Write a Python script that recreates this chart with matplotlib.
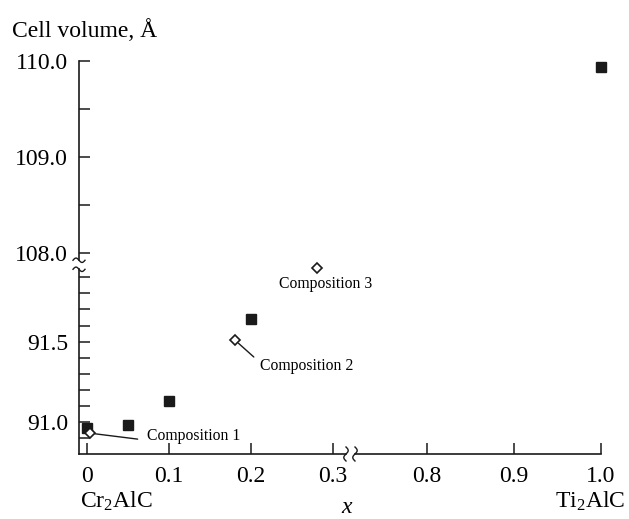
import matplotlib
matplotlib.use("Agg")
import matplotlib.pyplot as plt
import matplotlib.transforms as mtransforms
import numpy as np

plt.rcParams['font.family'] = 'serif'
plt.rcParams['font.serif'] = ['Liberation Serif', 'DejaVu Serif']
plt.rcParams['mathtext.fontset'] = 'custom'
plt.rcParams['mathtext.rm'] = 'Liberation Serif'
plt.rcParams['mathtext.it'] = 'Liberation Serif:italic'

# data
x_filled = [0.0, 0.05, 0.1, 0.2, 1.0]
v_filled = [90.96, 90.98, 91.13, 91.64, 109.94]
x_open = [0.003, 0.18, 0.28]
v_open = [90.93, 91.51, 91.96]
open_labels = ["Composition 1", "Composition 2", "Composition 3"]

xticks = [0, 0.1, 0.2, 0.3, 0.8, 0.9, 1.0]
xticklabels = ["0", "0.1", "0.2", "0.3", "0.8", "0.9", "1.0"]
yticks = [91.0, 91.5, 108.0, 109.0, 110.0]
yticklabels = ["91.0", "91.5", "108.0", "109.0", "110.0"]
yminor = [90.9, 91.1, 91.2, 91.3, 91.4, 91.6, 91.7, 91.8, 91.9, 108.5, 109.5]

# piecewise linear scales for the broken axes
xk = [-1.0, -0.01, 0.3, 0.8, 1.0, 2.0]
xp = [-811.8, 0.0, 254.2, 348.0, 522.0, 1392.0]
yk = [80.0, 90.8, 92.0, 108.0, 110.0, 120.0]
yp = [-1734.5, 0.0, 192.7, 201.0, 393.0, 1353.0]

def fx(v):
    return np.interp(np.asarray(v, dtype=float), xk, xp)

def ifx(v):
    return np.interp(np.asarray(v, dtype=float), xp, xk)

def fy(v):
    return np.interp(np.asarray(v, dtype=float), yk, yp)

def ify(v):
    return np.interp(np.asarray(v, dtype=float), yp, yk)

fig = plt.figure(figsize=(6.29, 5.19), dpi=100)
ax = fig.add_axes([79/629, 65/519, 522/629, 393/519])
ax.set_xscale('function', functions=(fx, ifx))
ax.set_yscale('function', functions=(fy, ify))
ax.set_xlim(-0.01, 1.0)
ax.set_ylim(90.8, 110.0)

col = '#1a1a1a'
ax.plot(x_filled, v_filled, 's', ms=7.8, color=col, clip_on=False, zorder=3)
ax.plot(x_open, v_open, 'D', ms=5, mfc='white', mec=col, mew=1.2, clip_on=False, zorder=4)

# labels for the open points
txt_off = [(57, -3), (25, -26), (9, -16)]
txt_ha = ['left', 'left', 'center']
line_end = [(48, -6), (19, -17), None]
for i in range(3):
    ax.annotate(open_labels[i], xy=(x_open[i], v_open[i]), xytext=txt_off[i],
                textcoords='offset pixels', ha=txt_ha[i], va='center', fontsize=11.3)
    if line_end[i] is not None:
        ax.annotate('', xy=(x_open[i], v_open[i]), xytext=line_end[i],
                    textcoords='offset pixels',
                    arrowprops=dict(arrowstyle='-', color=col, lw=1.0, shrinkA=0, shrinkB=3.5))

ax.set_xticks(xticks, labels=xticklabels)
ax.set_yticks(yticks, labels=yticklabels)
ax.set_yticks(yminor, minor=True)
ax.xaxis.set_minor_locator(matplotlib.ticker.NullLocator())
ax.tick_params(which='both', direction='in', length=8, width=1.1, color=col, labelsize=17)
ax.tick_params(axis='x', pad=9)
ax.tick_params(axis='y', pad=8)

for s in ax.spines.values():
    s.set_visible(False)

# broken spines
lw = 1.2
ax.plot([0, 0.5115], [0, 0], color=col, lw=lw, transform=ax.transAxes, clip_on=False)
ax.plot([0.5287, 1.0], [0, 0], color=col, lw=lw, transform=ax.transAxes, clip_on=False)
ax.plot([0, 0], [0, 0.470], color=col, lw=lw, transform=ax.transAxes, clip_on=False)
ax.plot([0, 0], [0.493, 1.0], color=col, lw=lw, transform=ax.transAxes, clip_on=False)

t = np.linspace(-1, 1, 40)
for yb in [0.470, 0.493]:
    tr = fig.dpi_scale_trans + mtransforms.ScaledTranslation(0, yb, ax.transAxes)
    ax.plot(0.06 * t, -0.022 * np.sin(np.pi * t), color=col, lw=1.0, transform=tr, clip_on=False)
for xb in [0.5115, 0.5287]:
    tr = fig.dpi_scale_trans + mtransforms.ScaledTranslation(xb, 0, ax.transAxes)
    ax.plot(0.022 * np.sin(np.pi * t), 0.07 * t, color=col, lw=1.0, transform=tr, clip_on=False)

fig.text(12/629, 1 - 37/519, "Cell volume, Å", fontsize=17, va='baseline', ha='left')
fig.text(80/629, 1 - 508/519, "Cr$_2$AlC", fontsize=17, va='baseline', ha='left')
fig.text(625/629, 1 - 508/519, "Ti$_2$AlC", fontsize=17, va='baseline', ha='right')
fig.text(347/629, 1 - 513/519, "$x$", fontsize=17, va='baseline', ha='center')

fig.savefig("out.png", dpi=100)
